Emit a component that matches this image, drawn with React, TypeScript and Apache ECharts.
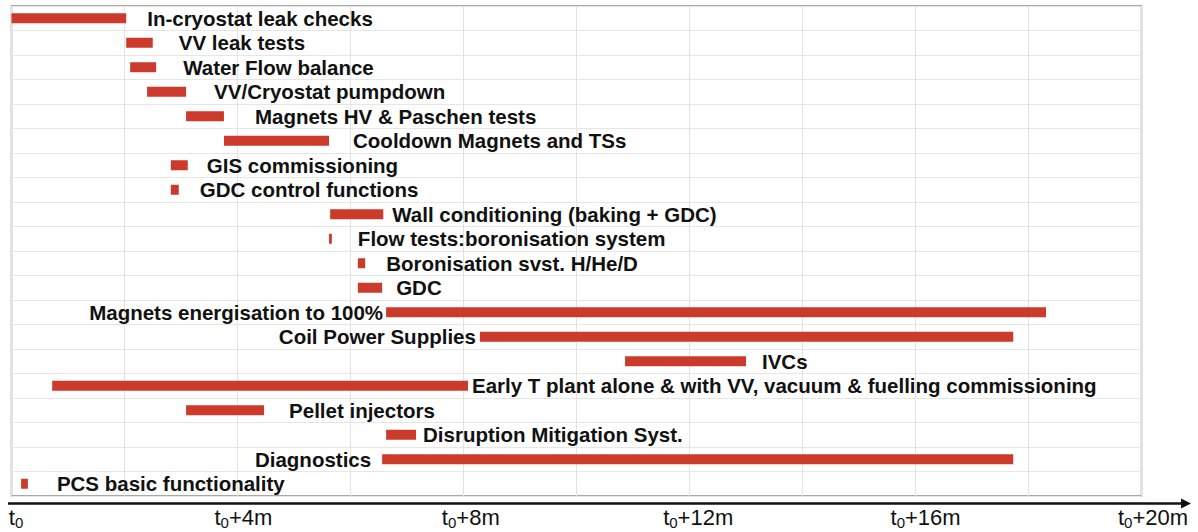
import React, { useEffect, useRef } from "react";
import * as echarts from "echarts";

const tasks = [
  "In-cryostat leak checks",
  "VV leak tests",
  "Water Flow balance",
  "VV/Cryostat pumpdown",
  "Magnets HV & Paschen tests",
  "Cooldown Magnets and TSs",
  "GIS commissioning",
  "GDC control functions",
  "Wall conditioning (baking + GDC)",
  "Flow tests:boronisation system",
  "Boronisation svst. H/He/D",
  "GDC",
  "Magnets energisation to 100%",
  "Coil Power Supplies",
  "IVCs",
  "Early T plant alone & with VV, vacuum & fuelling commissioning",
  "Pellet injectors",
  "Disruption Mitigation Syst.",
  "Diagnostics",
  "PCS basic functionality",
];

// start / end in months after t0
const starts = [0, 2.03, 2.1, 2.4, 3.09, 3.76, 2.82, 2.82, 5.64, 5.62, 6.13, 6.13, 6.63, 8.29, 10.86, 0.72, 3.09, 6.63, 6.56, 0.17];
const ends = [2.03, 2.5, 2.56, 3.09, 3.76, 5.62, 3.12, 2.96, 6.58, 5.67, 6.26, 6.56, 18.31, 17.73, 13.0, 8.08, 4.47, 7.16, 17.73, 0.29];

const tickMonths = [0, 4, 8, 12, 16, 20];

// label layout (not data)
const labelSide = ["right", "right", "right", "right", "right", "right", "right", "right", "right", "right", "right", "right", "left", "left", "right", "right", "right", "right", "left", "right"];
const labelGap = [21, 26, 27, 28, 31, 24, 19, 21, 9, 26, 21, 14, 3, 4, 16, 4, 25, 7, 11, 29];

const BAR = "#cc3a2b";
const FONT = "'Liberation Sans', Arial, Helvetica, sans-serif";

export default function App() {
  const ref = useRef<HTMLDivElement>(null);
  useEffect(() => {
    document.body.style.margin = "0";
    const chart = echarts.init(ref.current!, null, { renderer: "svg" });
    const durations = starts.map((s, i) => +(ends[i] - s).toFixed(3));
    const option: any = {
      animation: false,
      backgroundColor: "#ffffff",
      grid: [
        { left: 11.5, right: 56.5, top: 6, bottom: 36, show: true, borderColor: "#8c8c8c", borderWidth: 1.5, containLabel: false },
        { left: 16, right: 45, top: 503, height: 1, show: false },
      ],
      xAxis: [
        {
          type: "value",
          gridIndex: 0,
          min: 0,
          max: 20,
          interval: 2,
          axisLine: { show: false },
          axisTick: { show: false },
          axisLabel: { show: false },
          splitLine: { show: true, lineStyle: { color: "#e3e3e3", width: 1 } },
        },
        {
          type: "value",
          gridIndex: 1,
          min: 0,
          max: 20,
          interval: 4,
          axisLine: { show: false },
          axisTick: { show: false },
          splitLine: { show: false },
          axisLabel: {
            margin: 2,
            formatter: (v: number) => (tickMonths.indexOf(v) < 0 ? "" : v === 0 ? "{t|t}{s|0}" : "{t|t}{s|0}{t|+" + v + "m}"),
            rich: {
              t: { fontSize: 22, fontFamily: FONT, color: "#111", lineHeight: 22, verticalAlign: "bottom" },
              s: { fontSize: 15, fontFamily: FONT, color: "#111", lineHeight: 15, verticalAlign: "bottom", padding: [0, 0, -2, 0] },
            },
          },
        },
      ],
      yAxis: [
        {
          type: "category",
          gridIndex: 0,
          data: tasks,
          inverse: true,
          axisLine: { show: false },
          axisTick: { show: false },
          axisLabel: { show: false },
          splitLine: { show: true, lineStyle: { color: "#e6e6e6", width: 1 } },
        },
        { type: "value", gridIndex: 1, show: false, min: 0, max: 1 },
      ],
      series: [
        {
          type: "bar",
          stack: "g",
          xAxisIndex: 0,
          yAxisIndex: 0,
          barWidth: 10,
          silent: true,
          itemStyle: { color: "transparent" },
          data: starts,
        },
        {
          type: "bar",
          stack: "g",
          xAxisIndex: 0,
          yAxisIndex: 0,
          barWidth: 10,
          itemStyle: { color: BAR },
          data: durations.map((d, i) => ({
            value: d,
            label: {
              show: true,
              position: labelSide[i],
              distance: labelGap[i],
              formatter: tasks[i],
              fontFamily: FONT,
              fontWeight: "bold",
              fontSize: 20.5,
              color: "#111",
            },
          })),
        },
      ],
      graphic: [
        {
          type: "line",
          shape: { x1: 8, y1: 503.5, x2: 1184, y2: 503.5 },
          style: { stroke: "#111", lineWidth: 2.5 },
        },
        {
          type: "polygon",
          shape: { points: [[1181, 498.5], [1191, 503.5], [1181, 508.5]] },
          style: { fill: "#111" },
        },
      ],
    };
    chart.setOption(option);
    return () => chart.dispose();
  }, []);
  return <div ref={ref} style={{ width: 1198, height: 532 }} />;
}
